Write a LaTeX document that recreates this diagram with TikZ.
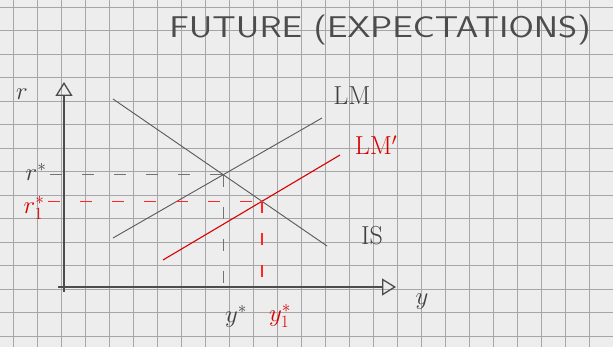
\documentclass[tikz,border=0pt]{standalone}
\usepackage{graphicx}
\usetikzlibrary{arrows.meta, positioning}
\begin{document}
\begin{tikzpicture}[x=1pt, y=-1pt,
    paper/.style={fill=black!7, draw=none},
    gridline/.style={draw=black!35, line width=0.7pt},
    axis/.style={draw=black!70, line width=1.6pt,
        -{Triangle[open, length=14pt, width=17pt, line width=1.3pt]}},
    curve/.style={draw=black!65, line width=0.9pt},
    redcurve/.style={draw=red!85!black, line width=1.1pt},
    guide/.style={draw=black!55, line width=1pt, dash pattern=on 12pt off 20pt},
    redguide/.style={draw=red!85, line width=1.3pt, dash pattern=on 12pt off 20pt},
    lbl/.style={text=black!75, font=\fontsize{26}{28}\selectfont},
    redlbl/.style={text=red!85!black, font=\fontsize{26}{28}\selectfont},
    ttl/.style={text=black!70, font=\sffamily\fontsize{30}{32}\selectfont}
]

% --- Papel cuadriculado ---
\path[paper] (0,0) rectangle (613,347);
\useasboundingbox (0,0) rectangle (613,347);
\foreach \gx in {13,37,...,613} \draw[gridline] (\gx,0) -- (\gx,347);
\foreach \gy in {7,30.5,...,347} \draw[gridline] (0,\gy) -- (613,\gy);

% --- Titulo ---
\node[ttl] (titulo) at (380,30) {\scalebox{1.22}[1]{FUTURE (EXPECTATIONS)}};

% --- Ejes ---
\coordinate (origen) at (64,287);
\coordinate (ytope) at (64,82);
\coordinate (xfin) at (396,287);
\draw[axis] (64,292) -- (ytope);
\draw[axis] (58,287) -- (xfin);
\node[lbl, font=\fontsize{34}{36}\selectfont] (rlab) at (22,94) {$r$};
\node[lbl, font=\fontsize{40}{42}\selectfont] (ylab) at (422,302) {$y$};

% --- Curvas ---
\coordinate (isA) at (113,99);
\coordinate (isB) at (327,246);
\coordinate (lmA) at (113,238);
\coordinate (lmB) at (322,118);
\coordinate (lmpA) at (163,260);
\coordinate (lmpB) at (340,155);

\draw[curve] (isA) -- (isB);
\draw[curve] (lmA) -- (lmB);
\draw[redcurve] (lmpA) -- (lmpB);

\node[lbl] (islab) at (372,236) {IS};
\node[lbl] (lmlab) at (352,96) {LM};
\node[redlbl] (lmplab) at (376,145) {LM$'$};

% --- Equilibrios ---
\coordinate (eq) at (intersection of isA--isB and lmA--lmB);
\coordinate (eqr) at (intersection of isA--isB and lmpA--lmpB);

\node[lbl] (rstar) at (36,172) {$r^{*}$};
\node[redlbl] (rstarI) at (34,208) {$r^{*}_{1}$};
\node[lbl] (ystar) at (236,316) {$y^{*}$};
\node[redlbl] (ystarI) at (280,316) {$y^{*}_{1}$};

\draw[guide] (rstar.east |- eq) -- (eq);
\draw[guide] (eq) -- (eq |- origen);
\draw[redguide] (rstarI.east |- eqr) -- (eqr);
\draw[redguide] (eqr) -- (eqr |- origen);

\end{tikzpicture}
\end{document}
